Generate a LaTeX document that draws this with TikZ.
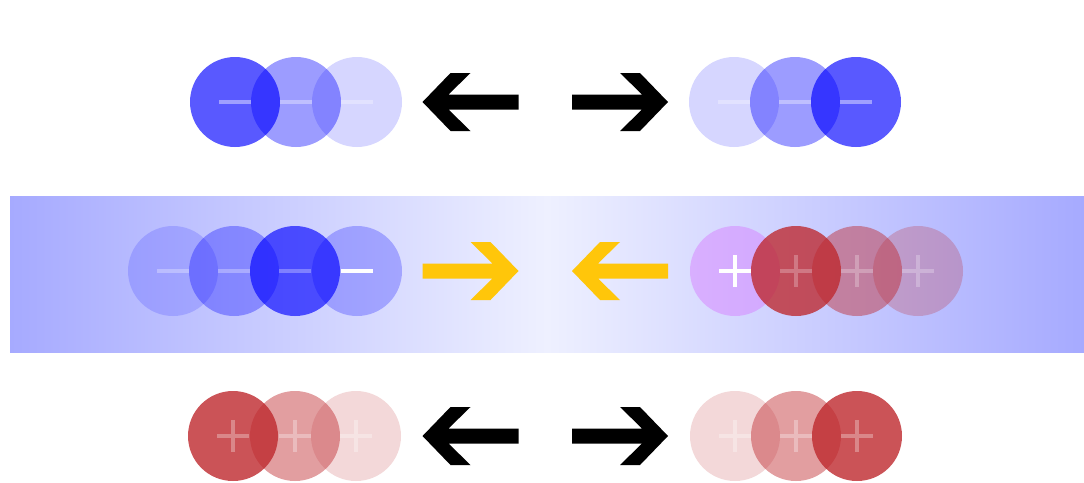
\documentclass[tikz,border=0pt]{standalone}
\usetikzlibrary{shadings}
\definecolor{chblue}{RGB}{0,0,255}
\definecolor{chred}{RGB}{190,40,45}
\definecolor{chpink}{RGB}{215,120,255}
\definecolor{bandedge}{RGB}{166,170,255}
\definecolor{bandmid}{RGB}{238,240,255}
\definecolor{arrowgold}{RGB}{255,198,10}
\tikzset{
  bluedisc/.style={fill=chblue, fill opacity=#1},
  reddisc/.style={fill=chred, fill opacity=#1},
  pinkdisc/.style={fill=chpink, fill opacity=#1},
  chargemark/.style={draw=white, line width=4pt, draw opacity=#1},
  pics/rarr/.style={code={
    \fill[#1] (48,0) -- (20,-29) -- (0,-29) -- (22,-7.5) -- (-48,-7.5)
      -- (-48,7.5) -- (22,7.5) -- (0,29) -- (20,29) -- cycle;}},
}
\newcommand{\minusmark}[3]{\path[chargemark=#3] (#1-16,#2) -- (#1+16,#2);}
\newcommand{\plusmark}[3]{\path[chargemark=#3] (#1-16,#2) -- (#1+16,#2) (#1,#2-16) -- (#1,#2+16);}
\begin{document}
\begin{tikzpicture}[x=1pt,y=-1pt]
\useasboundingbox (0,0) rectangle (1084,482);
% band
\shade[left color=bandedge, right color=bandedge, middle color=bandmid] (10,196) rectangle (1084,352);

% ---------- top row (y=102) ----------
\fill[bluedisc=0.65] (235,102) circle (45);
\fill[bluedisc=0.39] (296,102) circle (45);
\fill[bluedisc=0.16] (357,102) circle (45);
\minusmark{235}{102}{0.42}
\minusmark{296}{102}{0.35}
\minusmark{357}{102}{0.3}
\pic[xscale=-1] at (470.5,102) {rarr=black};
\pic at (620,102) {rarr=black};
\fill[bluedisc=0.16] (734,102) circle (45);
\fill[bluedisc=0.39] (795,102) circle (45);
\fill[bluedisc=0.65] (856,102) circle (45);
\minusmark{734}{102}{0.3}
\minusmark{795}{102}{0.35}
\minusmark{856}{102}{0.42}

% ---------- middle row (y=271) ----------
\fill[bluedisc=0.15] (173,271) circle (45);
\fill[bluedisc=0.32] (234,271) circle (45);
\fill[bluedisc=0.64] (295,271) circle (45);
\fill[bluedisc=0.25] (357,271) circle (45);
\minusmark{173}{271}{0.3}
\minusmark{234}{271}{0.3}
\minusmark{295}{271}{0.3}
\minusmark{357}{271}{1}
\pic at (470.5,271) {rarr=arrowgold};
\pic[xscale=-1] at (620,271) {rarr=arrowgold};
\fill[pinkdisc=0.45] (735,271) circle (45);
\fill[reddisc=0.78] (796,271) circle (45);
\fill[reddisc=0.45] (857,271) circle (45);
\fill[reddisc=0.25] (918,271) circle (45);
\plusmark{735}{271}{1}
\plusmark{796}{271}{0.25}
\plusmark{857}{271}{0.25}
\plusmark{918}{271}{0.25}

% ---------- bottom row (y=436) ----------
\fill[reddisc=0.8] (233,436) circle (45);
\fill[reddisc=0.45] (295,436) circle (45);
\fill[reddisc=0.18] (356,436) circle (45);
\plusmark{233}{436}{0.3}
\plusmark{295}{436}{0.3}
\plusmark{356}{436}{0.3}
\pic[xscale=-1] at (470.5,436) {rarr=black};
\pic at (620,436) {rarr=black};
\fill[reddisc=0.18] (735,436) circle (45);
\fill[reddisc=0.45] (796,436) circle (45);
\fill[reddisc=0.8] (857,436) circle (45);
\plusmark{735}{436}{0.3}
\plusmark{796}{436}{0.3}
\plusmark{857}{436}{0.3}
\end{tikzpicture}
\end{document}
